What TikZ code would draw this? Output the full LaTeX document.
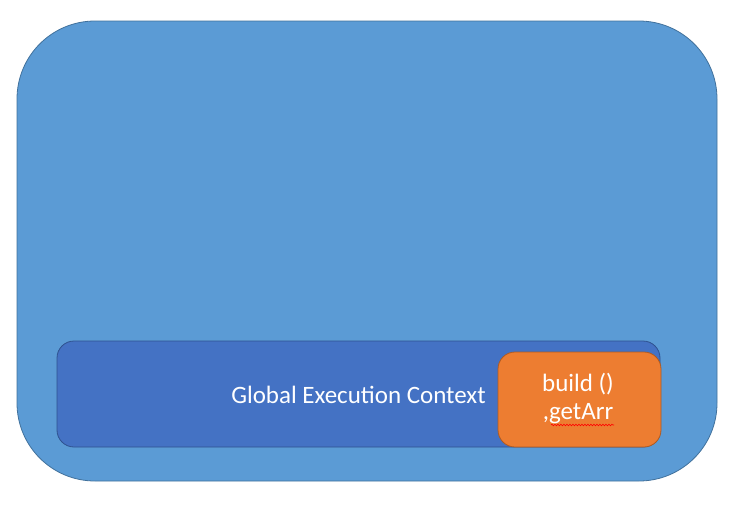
\documentclass[tikz,border=0pt]{standalone}
\usepackage{fontspec}
\setmainfont{Carlito}
\usetikzlibrary{decorations.pathmorphing}
\definecolor{outerfill}{HTML}{5B9BD5}
\definecolor{outerline}{HTML}{41719C}
\definecolor{innerfill}{HTML}{4472C4}
\definecolor{innerline}{HTML}{2F528F}
\definecolor{orfill}{HTML}{ED7D31}
\definecolor{orline}{HTML}{AE5A21}
\begin{document}
\begin{tikzpicture}[x=1pt,y=-1pt,
  outerbox/.style={fill=outerfill,draw=outerline,line width=0.8pt,rounded corners=78pt},
  innerbox/.style={fill=innerfill,draw=innerline,line width=0.8pt,rounded corners=17pt},
  orbox/.style={fill=orfill,draw=orline,line width=0.8pt,rounded corners=17pt},
  lbl/.style={text=white,font=\fontsize{25}{28}\selectfont,inner sep=0pt}]
\useasboundingbox (0,0) rectangle (753,509);
\draw[outerbox] (17,21) rectangle (717,481);
\draw[innerbox] (57,341) rectangle (660,447);
\draw[orbox] (498,352) rectangle (661,447);
\node[lbl,anchor=center] (gec) at (358.5,395) {Global Execution Context};
\node[lbl,align=center,anchor=center] (bld) at (578,398) {build ()\\,getArr};
\coordinate (wa) at (551,425);
\coordinate (wb) at (614,425);
\draw[red,line width=0.6pt,decorate,decoration={snake,amplitude=0.8pt,segment length=3pt}] (wa) -- (wb);
\end{tikzpicture}
\end{document}
